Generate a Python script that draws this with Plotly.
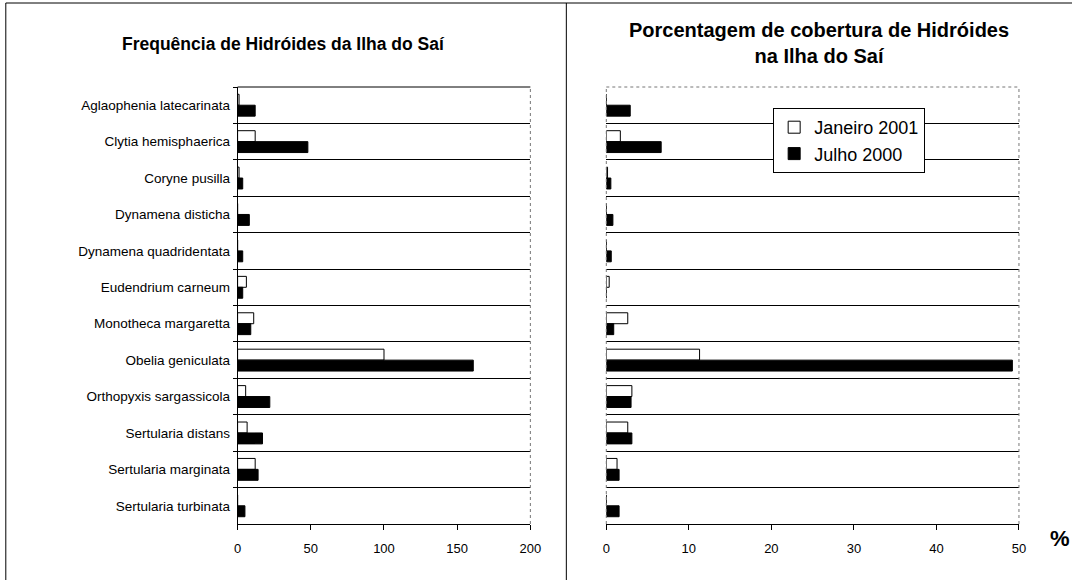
import plotly.graph_objects as go

species = [
    "Aglaophenia latecarinata", "Clytia hemisphaerica", "Coryne pusilla",
    "Dynamena disticha", "Dynamena quadridentata", "Eudendrium carneum",
    "Monotheca margaretta", "Obelia geniculata", "Orthopyxis sargassicola",
    "Sertularia distans", "Sertularia marginata", "Sertularia turbinata",
]
freq_jan2001 = [1, 12, 1, 0, 0, 6, 11, 100, 5.5, 6.5, 12, 0]
freq_jul2000 = [12, 48, 3.5, 8, 3.5, 3.5, 9, 161, 22, 17, 14, 5]
cov_jan2001 = [0, 1.7, 0.15, 0, 0, 0.35, 2.6, 11.3, 3.1, 2.6, 1.3, 0]
cov_jul2000 = [2.9, 6.65, 0.55, 0.8, 0.6, 0, 0.9, 49.2, 3.0, 3.1, 1.55, 1.55]
series_names = ["Janeiro 2001", "Julho 2000"]
left_title = "Frequência de Hidróides da Ilha do Saí"
right_title = "Porcentagem de cobertura de Hidróides<br>na Ilha do Saí"

FIG_W, H = 1086, 580
FONT = "Liberation Sans, Arial, sans-serif"

def px(x):
    # horizontal position (in target picture pixels) -> paper fraction
    return ((x - 3.2) / 0.987) / FIG_W

def py(y):
    return 1 - y / H

fig = go.Figure()
white_style = dict(color="white", line=dict(color="black", width=1))
black_style = dict(color="black", line=dict(color="black", width=1))

fig.add_trace(go.Bar(x=freq_jan2001, y=species, orientation="h", name=series_names[0],
                     marker=white_style, xaxis="x", yaxis="y", showlegend=False))
fig.add_trace(go.Bar(x=freq_jul2000, y=species, orientation="h", name=series_names[1],
                     marker=black_style, xaxis="x", yaxis="y", showlegend=False))
fig.add_trace(go.Bar(x=cov_jan2001, y=species, orientation="h", name=series_names[0],
                     marker=white_style, xaxis="x2", yaxis="y2"))
fig.add_trace(go.Bar(x=cov_jul2000, y=species, orientation="h", name=series_names[1],
                     marker=black_style, xaxis="x2", yaxis="y2"))

ydom = [py(524), py(87)]
common_y = dict(type="category", range=[11.5, -0.5], tickson="boundaries",
                showgrid=True, gridcolor="black", gridwidth=1, zeroline=False,
                domain=ydom)
fig.update_layout(
    width=FIG_W, height=H, autosize=False,
    margin=dict(l=0, r=0, t=0, b=0),
    paper_bgcolor="white", plot_bgcolor="white",
    font=dict(family=FONT, size=13, color="black"),
    barmode="group", bargap=0.4, bargroupgap=0,
    xaxis=dict(domain=[px(237), px(530)], range=[0, 200], dtick=50, anchor="y",
               showline=True, linecolor="black", linewidth=1, ticks="outside",
               ticklen=5, tickcolor="black", showgrid=False, zeroline=False,
               ticklabelstandoff=7, tickfont=dict(size=13)),
    yaxis=dict(**common_y, anchor="x", showline=True, linecolor="black", linewidth=1,
               ticks="outside", ticklen=4, tickcolor="black", tickfont=dict(size=13.5),
               ticklabelstandoff=4),
    xaxis2=dict(domain=[px(606), px(1019)], range=[0, 50], dtick=10, anchor="y2",
                showline=True, linecolor="black", linewidth=1, ticks="outside",
                ticklen=5, tickcolor="black", showgrid=False, zeroline=False,
                ticklabelstandoff=7, tickfont=dict(size=13)),
    yaxis2=dict(**common_y, anchor="x2", showline=False, showticklabels=False, ticks=""),
    legend=dict(x=px(773), y=py(108), xanchor="left", yanchor="top",
                bordercolor="black", borderwidth=1, bgcolor="white",
                font=dict(family=FONT, size=18), traceorder="normal",
                itemwidth=30, tracegroupgap=0),
    showlegend=True,
)

annotations = [
    dict(text="<b>" + left_title + "</b>", x=px(283), y=py(44), xref="paper", yref="paper",
         showarrow=False, font=dict(size=17.5, family=FONT), xanchor="center", yanchor="middle"),
    dict(text="<b>" + right_title + "</b>", x=px(819), y=py(43), xref="paper", yref="paper",
         showarrow=False, font=dict(size=20, family=FONT), xanchor="center", yanchor="middle",
         align="center"),
    dict(text="<b>%</b>", x=px(1060), y=py(538), xref="paper", yref="paper",
         showarrow=False, font=dict(size=22, family=FONT), xanchor="center", yanchor="middle"),
]
fig.update_layout(annotations=annotations)

line = dict(color="black", width=1)
dot = dict(color="#777777", width=1, dash="dot")
shapes = [
    # outer frames
    dict(type="line", xref="paper", yref="paper", x0=px(5), x1=1, y0=py(3), y1=py(3), line=line),
    dict(type="line", xref="paper", yref="paper", x0=px(5), x1=px(5), y0=py(3), y1=0, line=line),
    dict(type="line", xref="paper", yref="paper", x0=px(566), x1=px(566), y0=py(3), y1=0, line=line),
    # plot-area borders
    dict(type="line", xref="x domain", yref="y domain", x0=0, x1=1, y0=1, y1=1, line=line),
    dict(type="line", xref="x domain", yref="y domain", x0=1, x1=1, y0=0, y1=1, line=dot),
    dict(type="line", xref="x2 domain", yref="y2 domain", x0=0, x1=1, y0=1, y1=1, line=dot),
    dict(type="line", xref="x2 domain", yref="y2 domain", x0=0, x1=0, y0=0, y1=1, line=dot),
    dict(type="line", xref="x2 domain", yref="y2 domain", x0=1, x1=1, y0=0, y1=1, line=dot),
]
fig.update_layout(shapes=shapes)

fig.write_html(
    "out.html",
    config={"responsive": False, "displayModeBar": False},
    post_script="document.body.style.margin='0';document.body.style.overflow='hidden';",
)
